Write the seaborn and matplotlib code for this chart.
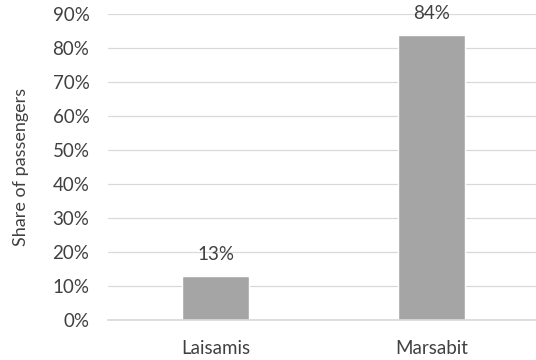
import pandas as pd
import matplotlib
matplotlib.use('Agg')
import matplotlib.pyplot as plt
import seaborn as sns
from matplotlib.ticker import PercentFormatter

# data
towns = ['Laisamis', 'Marsabit']
shares = [0.13, 0.84]
labels = ['13%', '84%']

df = pd.DataFrame({'town': towns, 'share': shares})

sns.set_theme(style='white')
plt.rcParams['font.family'] = ['Lato', 'DejaVu Sans']
txt = '#404040'

fig = plt.figure(figsize=(5.36, 3.6), dpi=100)
# plot area runs off the right edge, like the cropped original
ax = fig.add_axes([107.5 / 536, 39.7 / 360, 432 / 536, 306 / 360])

sns.barplot(data=df, x='town', y='share', color='#a5a5a5', width=0.31,
            saturation=1, ax=ax)

ax.set_ylim(0, 0.9)
ax.set_xlim(-0.5, 1.5)
ax.set_yticks([i / 10 for i in range(10)])
ax.yaxis.set_major_formatter(PercentFormatter(1.0, decimals=0))
ax.yaxis.grid(True, color='#d9d9d9', linewidth=0.9)
ax.set_axisbelow(True)
for s in ['top', 'right', 'left']:
    ax.spines[s].set_visible(False)
ax.spines['bottom'].set_color('#d9d9d9')

for i, (v, lab) in enumerate(zip(shares, labels)):
    ax.text(i, v + 0.038, lab, ha='center', va='bottom', fontsize=13.5, color=txt)

ax.set_xlabel('')
ax.set_ylabel('Share of passengers', fontsize=13, color=txt, labelpad=17)
ax.tick_params(axis='both', labelsize=13.5, colors=txt, length=0)
ax.tick_params(axis='x', pad=14.5)
ax.tick_params(axis='y', pad=13)

fig.savefig('out.png', dpi=100)
